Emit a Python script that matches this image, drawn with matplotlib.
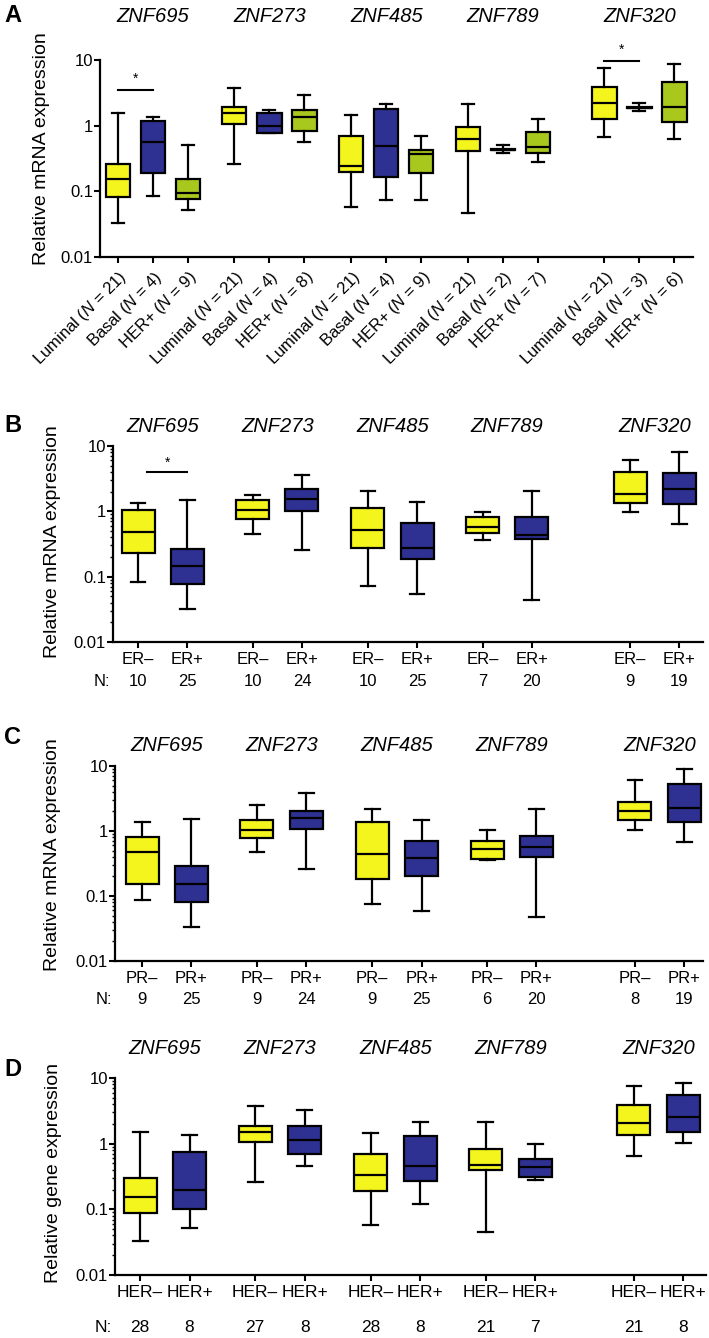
import numpy as np
import matplotlib
matplotlib.use("Agg")
import matplotlib.pyplot as plt
from matplotlib.ticker import LogLocator, NullFormatter

plt.rcParams['font.family'] = ['Liberation Sans', 'DejaVu Sans']
plt.rcParams['mathtext.fontset'] = 'custom'
plt.rcParams['mathtext.it'] = 'Liberation Sans:italic'
plt.rcParams['mathtext.rm'] = 'Liberation Sans'

W, H = 709, 1338

genes = ["ZNF695", "ZNF273", "ZNF485", "ZNF789", "ZNF320"]
ytick_vals = [0.01, 0.1, 1, 10]
ytick_labels = ["0.01", "0.1", "1", "10"]

# panel A: Luminal / Basal / HER+ for each gene
a_groups = ["Luminal", "Basal", "HER+"]
a_n = [21, 4, 9, 21, 4, 8, 21, 4, 9, 21, 2, 7, 21, 3, 6]
a_whishi = [1.55, 1.34, 0.51, 3.7, 1.73, 2.93, 1.45, 2.14, 0.70, 2.14, 0.50, 1.25, 7.5, 2.19, 8.6]
a_q3 = [0.258, 1.18, 0.156, 1.95, 1.58, 1.73, 0.70, 1.77, 0.43, 0.94, 0.44, 0.79, 3.93, 1.92, 4.57]
a_med = [0.153, 0.57, 0.095, 1.54, 0.99, 1.37, 0.246, 0.49, 0.37, 0.63, 0.43, 0.48, 2.19, 1.88, 1.94]
a_q1 = [0.081, 0.19, 0.076, 1.05, 0.78, 0.84, 0.195, 0.167, 0.188, 0.41, 0.42, 0.39, 1.26, 1.85, 1.12]
a_whislo = [0.033, 0.086, 0.052, 0.26, 0.76, 0.57, 0.058, 0.075, 0.075, 0.046, 0.38, 0.28, 0.68, 1.67, 0.62]

# panel B: ER- / ER+
b_groups = ["ER\u2013", "ER+"]
b_n = [10, 25, 10, 24, 10, 25, 7, 20, 9, 19]
b_whishi = [1.32, 1.49, 1.78, 3.6, 2.07, 1.41, 0.98, 2.07, 6.1, 8.2]
b_q3 = [1.05, 0.265, 1.49, 2.2, 1.11, 0.67, 0.83, 0.81, 3.95, 3.82]
b_med = [0.48, 0.144, 1.05, 1.55, 0.52, 0.27, 0.57, 0.44, 1.84, 2.17]
b_q1 = [0.233, 0.077, 0.76, 1.01, 0.278, 0.186, 0.46, 0.38, 1.36, 1.28]
b_whislo = [0.082, 0.032, 0.45, 0.256, 0.072, 0.054, 0.36, 0.044, 0.99, 0.65]

# panel C: PR- / PR+
c_groups = ["PR\u2013", "PR+"]
c_n = [9, 25, 9, 24, 9, 25, 6, 20, 8, 19]
c_whishi = [1.37, 1.55, 2.47, 3.8, 2.17, 1.49, 1.02, 2.17, 6.1, 8.9]
c_q3 = [0.81, 0.288, 1.49, 2.0, 1.36, 0.70, 0.70, 0.85, 2.81, 5.2]
c_med = [0.48, 0.151, 1.02, 1.58, 0.44, 0.39, 0.52, 0.57, 2.05, 2.27]
c_q1 = [0.151, 0.081, 0.78, 1.07, 0.184, 0.20, 0.37, 0.40, 1.49, 1.39]
c_whislo = [0.087, 0.033, 0.47, 0.26, 0.074, 0.058, 0.356, 0.047, 1.02, 0.68]

# panel D: HER- / HER+
d_groups = ["HER\u2013", "HER+"]
d_n = [28, 8, 27, 8, 28, 8, 21, 7, 21, 8]
d_whishi = [1.51, 1.34, 3.7, 3.22, 1.45, 2.11, 2.11, 1.0, 7.5, 8.4]
d_q3 = [0.30, 0.74, 1.88, 1.84, 0.69, 1.32, 0.83, 0.58, 3.88, 5.5]
d_med = [0.154, 0.199, 1.52, 1.12, 0.337, 0.46, 0.48, 0.44, 2.07, 2.52]
d_q1 = [0.088, 0.10, 1.05, 0.69, 0.19, 0.27, 0.40, 0.31, 1.36, 1.52]
d_whislo = [0.033, 0.052, 0.26, 0.45, 0.057, 0.12, 0.045, 0.28, 0.66, 1.02]

YELLOW = "#F5F51E"
BLUE = "#2E3192"
GREEN = "#A8C81E"


def add_axes_px(fig, left, top, right, bottom):
    return fig.add_axes([left / W, 1 - bottom / H, (right - left) / W, (bottom - top) / H])


def make_positions(starts, k):
    return [s + j for s in starts for j in range(k)]


def draw_boxes(ax, pos, lo, q1, med, q3, hi, colors, width, capw):
    stats = [dict(whislo=a, q1=b, med=c, q3=d, whishi=e)
             for a, b, c, d, e in zip(lo, q1, med, q3, hi)]
    lw = 1.6
    art = ax.bxp(stats, positions=pos, widths=width, capwidths=capw, showfliers=False,
                 patch_artist=True, manage_ticks=False,
                 boxprops=dict(linewidth=lw, edgecolor="black"),
                 medianprops=dict(color="black", linewidth=lw),
                 whiskerprops=dict(color="black", linewidth=lw),
                 capprops=dict(color="black", linewidth=lw))
    for i, box in enumerate(art["boxes"]):
        box.set_facecolor(colors[i % len(colors)])


def style_axes(ax, xlim, minor):
    ax.set_yscale("log")
    ax.set_ylim(0.01, 10)
    ax.set_xlim(*xlim)
    ax.set_yticks(ytick_vals)
    ax.set_yticklabels(ytick_labels)
    if minor:
        ax.yaxis.set_minor_locator(LogLocator(base=10, subs=np.arange(2, 10)))
        ax.yaxis.set_minor_formatter(NullFormatter())
        ax.tick_params(axis="y", which="minor", length=2, width=1)
    else:
        ax.yaxis.set_minor_locator(plt.NullLocator())
    for s in ["top", "right"]:
        ax.spines[s].set_visible(False)
    for s in ["left", "bottom"]:
        ax.spines[s].set_linewidth(1.6)
    ax.tick_params(axis="y", which="major", length=4, width=1.5, labelsize=12, pad=1)
    ax.tick_params(axis="x", length=4, width=1.5)


def gene_titles(ax, centers, yaxes):
    for g, c in zip(genes, centers):
        ax.text(c, yaxes, g, transform=ax.get_xaxis_transform(), ha="center", va="center",
                fontsize=14.5, style="italic", clip_on=False)


fig = plt.figure(figsize=(W / 100, H / 100), dpi=100)

# ---------------- panel A
axA = add_axes_px(fig, 100, 60, 693, 257)
a_starts = [0, 3.33, 6.67, 10, 13.9]
posA = make_positions(a_starts, 3)
draw_boxes(axA, posA, a_whislo, a_q1, a_med, a_q3, a_whishi, [YELLOW, BLUE, GREEN], 0.69, 0.34)
style_axes(axA, (-0.51, 16.43), minor=False)
axA.set_xticks(posA)
labelsA = ["%s ($N$ = %d)" % (a_groups[i % 3], n) for i, n in enumerate(a_n)]
axA.set_xticklabels(labelsA, rotation=45, ha="right", va="top", rotation_mode="anchor",
                    fontsize=12)
axA.tick_params(axis="x", pad=4)
gene_titles(axA, [s + 1 for s in a_starts], 1.223)
# significance
axA.plot([posA[0], posA[1]], [3.49, 3.49], color="black", lw=1.5, clip_on=False)
axA.text((posA[0] + posA[1]) / 2, 5.1, "*", ha="center", va="center", fontsize=10)
axA.plot([posA[12], posA[13]], [9.66, 9.66], color="black", lw=1.5, clip_on=False)
axA.text((posA[12] + posA[13]) / 2, 14.2, "*", ha="center", va="center", fontsize=10,
         clip_on=False)

# ---------------- panels B, C, D
pair_starts = [0, 2.33, 4.67, 7.0, 10.0]
posP = make_positions(pair_starts, 2)
panels = [
    ((113, 446, 703, 642), b_groups, b_n, (b_whislo, b_q1, b_med, b_q3, b_whishi),
     (-0.51, 11.48), 1.097, -0.204, 12),
    ((115, 766, 703, 961), c_groups, c_n, (c_whislo, c_q1, c_med, c_q3, c_whishi),
     (-0.55, 11.38), 1.107, -0.2, 12),
    ((115, 1078, 706, 1275), d_groups, d_n, (d_whislo, d_q1, d_med, d_q3, d_whishi),
     (-0.51, 11.46), 1.152, -0.264, 12.5),
]
axes = []
for box_px, groups, ns, st, xlim, ty, ny, fs in panels:
    ax = add_axes_px(fig, *box_px)
    draw_boxes(ax, posP, *st, [YELLOW, BLUE], 0.67, 0.3)
    style_axes(ax, xlim, minor=True)
    ax.set_xticks(posP)
    ax.set_xticklabels([groups[i % 2] for i in range(len(posP))], fontsize=fs)
    ax.tick_params(axis="x", pad=3)
    gene_titles(ax, [s + 0.5 for s in pair_starts], ty)
    trans = ax.get_xaxis_transform()
    for p, n in zip(posP, ns):
        ax.text(p, ny, str(n), transform=trans, ha="center", va="center", fontsize=fs)
    ax.text(-0.005, ny, "N:", transform=ax.transAxes, ha="right", va="center", fontsize=fs)
    axes.append(ax)

axB = axes[0]
axB.plot([posP[0] + 0.18, posP[1]], [4.04, 4.04], color="black", lw=1.5)
axB.text((posP[0] + 0.18 + posP[1]) / 2, 5.56, "*", ha="center", va="center", fontsize=10)

# y labels
fig.text(42 / W, 1 - 149 / H, "Relative mRNA expression", rotation=90, ha="center",
         va="center", fontsize=14)
fig.text(53 / W, 1 - 542 / H, "Relative mRNA expression", rotation=90, ha="center",
         va="center", fontsize=14)
fig.text(53 / W, 1 - 855 / H, "Relative mRNA expression", rotation=90, ha="center",
         va="center", fontsize=14)
fig.text(54 / W, 1 - 1173 / H, "Relative gene expression", rotation=90, ha="center",
         va="center", fontsize=14)

# panel letters
for letter, y in zip("ABCD", [15, 426, 737, 1070]):
    fig.text(4 / W, 1 - y / H, letter, ha="left", va="center", fontsize=17,
             fontweight="bold")

fig.savefig("out.png", dpi=100)
